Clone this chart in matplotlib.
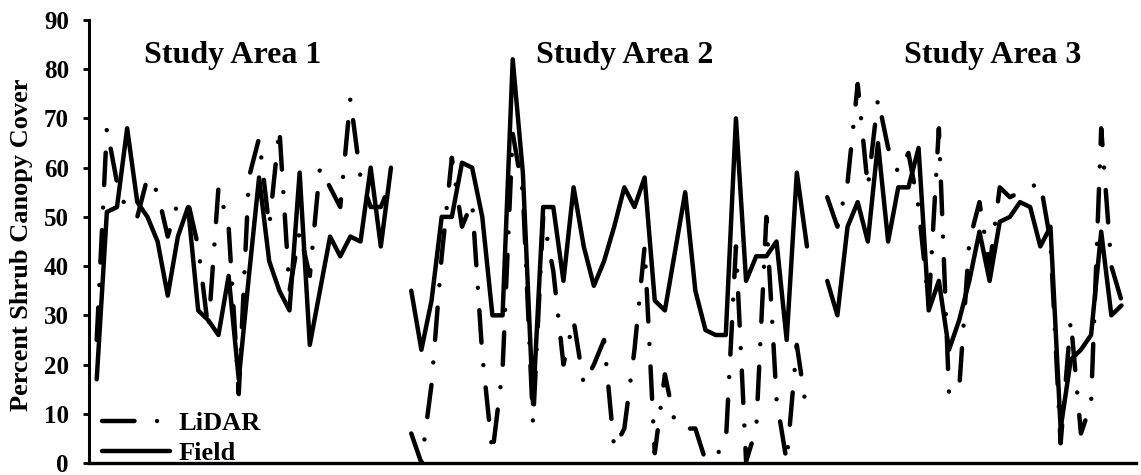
import numpy as np
import matplotlib.pyplot as plt

# percent shrub canopy cover, one value per plot
field_area1 = [17, 51, 52, 68, 53, 50, 45, 34, 46, 52, 31, 29, 26, 38, 17,
               38, 58, 41, 35, 31, 59, 24, 35, 46, 42, 46, 45, 60, 44, 60]
lidar_area1 = [25, 68, 57, 51, 50, 58, 55, 46, 53, 53, 44, 27, 56, 48, 14,
               58, 66, 48, 68, 35, 47, 38, 60, 56, 52, 74, 58, 52, 52, 57]

field_area2 = [35, 23, 33, 50, 50, 61, 60, 50, 30, 30, 82, 59, 12, 52, 52,
               37, 56, 44, 36, 41, 48, 56, 52, 58, 33, 31, 43, 55, 35, 27,
               26, 26, 70, 37, 42, 42, 45, 25, 59, 44]
lidar_area2 = [6, 0, 16, 42, 62, 48, 53, 22, 2, 19, 67, 55, 8, 50, 39,
               20, 29, 16, 20, 25, 3, 7, 23, 44, 2, 18, 8, 7, 7, 0.5,
               1.5, 4, 44, 0.3, 7, 50, 13, 0.3, 24, 10]

field_area3 = [37, 30, 48, 53, 45, 65, 45, 56, 56, 64, 31, 37, 23, 29, 37,
               47, 37, 49, 50, 53, 52, 44, 48, 7, 21, 23, 26, 47, 30, 32]
lidar_area3 = [54, 48, 57, 77, 56, 74, 64, 59, 63, 52, 32, 68, 14, 15, 45,
               53, 40, 56, 54, 55, 56, 57, 45, 4, 29, 6, 12, 68, 40, 33]

area_titles = ['Study Area 1', 'Study Area 2', 'Study Area 3']


def join_areas(a1, a2, a3):
    # one empty category between the study areas, so the line breaks there
    gap = [np.nan]
    return np.array(a1 + gap + a2 + gap + a3, dtype=float)


field = join_areas(field_area1, field_area2, field_area3)
lidar = join_areas(lidar_area1, lidar_area2, lidar_area3)
x = np.arange(len(field))

plt.rcParams['font.family'] = ['Liberation Serif', 'DejaVu Serif']
plt.rcParams['font.weight'] = 'bold'
plt.rcParams['lines.scale_dashes'] = False

fig = plt.figure(figsize=(11.41, 4.75), dpi=100)
ax = fig.add_axes([88.7 / 1141, 12 / 475, 1047 / 1141, 443 / 475])

ax.plot(x, lidar, color='black', lw=3.2, dashes=(23.4, 16.2, 0.01, 16.2),
        dash_capstyle='round', dash_joinstyle='round', label='LiDAR')
ax.plot(x, field, color='black', lw=3.2, solid_joinstyle='round',
        solid_capstyle='round', label='Field')

ax.set_xlim(-0.79, 102.4)
ax.set_ylim(0, 90)
ax.set_yticks(range(0, 91, 10))
ax.set_xticks([])
ax.spines['top'].set_visible(False)
ax.spines['right'].set_visible(False)
ax.spines['left'].set_linewidth(2.2)
ax.spines['bottom'].set_linewidth(2.4)
ax.tick_params(axis='y', direction='out', length=4.3, width=2,
               labelsize=18, pad=9.9)

# study area titles
for xpos, title in zip([0.137, 0.512, 0.863], area_titles):
    ax.text(xpos, 0.903, title, transform=ax.transAxes, ha='center',
            va='baseline', fontsize=23, fontweight='bold')

fig.text(22 / 1141, 1 - 245 / 475, 'Percent Shrub Canopy Cover',
         rotation=90, ha='center', va='center', fontsize=19,
         fontweight='bold')

ax.legend(loc='lower left', bbox_to_anchor=(0.0124, -0.005), frameon=False,
          fontsize=19, handlelength=2.6, handletextpad=0.3,
          labelspacing=0.25, borderpad=0, borderaxespad=0)

fig.savefig('out.png', dpi=100)
